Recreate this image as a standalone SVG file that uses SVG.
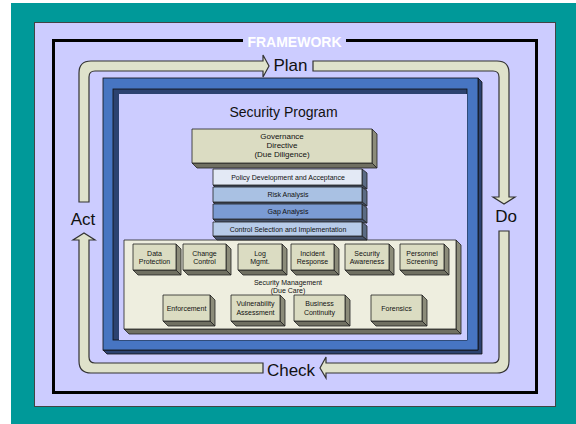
<svg xmlns="http://www.w3.org/2000/svg" width="576" height="424" viewBox="0 0 576 424">
  <style>
    text { font-family: "Liberation Sans", Arial, sans-serif; fill: #111; text-anchor: middle; }
    .big { font-size: 17px; }
    .title { font-size: 14px; }
    .gov { font-size: 8px; }
    .sm { font-size: 7px; }
    .frame-label { font-size: 14px; font-weight: bold; fill: #ffffff; }
    .cycle { fill: #dfe2cb; stroke: #333; stroke-width: 1.2; stroke-linejoin: miter; }
    .edge { stroke: #222; stroke-width: 0.8; stroke-linejoin: round; }
    .khaki { fill: #dbdcc2; }
    .khaki-side { fill: #8c8c7a; }
    .khaki-bottom { fill: #707062; }
    .row-side { fill: #5b6b84; }
    .row-bottom { fill: #46526a; }
  </style>

  <!-- background -->
  <rect x="11" y="3" width="565" height="421" fill="#009999"/>
  <rect x="34.5" y="22.5" width="521" height="384" fill="#ccccff" stroke="#444" stroke-width="1"/>

  <!-- framework border with its label -->
  <g id="framework">
    <path d="M243,40.5 L53.5,40.5 L53.5,392.5 L536.5,392.5 L536.5,40.5 L346,40.5" fill="none" stroke="#000" stroke-width="3"/>
    <text class="frame-label" x="294.5" y="47">FRAMEWORK</text>
  </g>

  <!-- PDCA cycle arrows -->
  <g id="connectors">
    <path class="cycle" d="M79,202 L79,73 Q79,61 91,61 L263,61 L263,55 L269,66 L263,77 L263,71 L95,71 Q89,71 89,77 L89,202 Z"/>
    <path class="cycle" d="M313,61 L497,61 Q509,61 509,73 L509,197 L515,197 L504,204 L493,197 L499,197 L499,77 Q499,71 493,71 L313,71 Z"/>
    <path class="cycle" d="M499,231 L509,231 L509,361 Q509,373 497,373 L326,373 L326,378 L320,368 L326,357 L326,363 L493,363 Q499,363 499,357 Z"/>
    <path class="cycle" d="M263,363 L263,373 L91,373 Q79,373 79,361 L79,240 L73,240 L84,233 L95,240 L89,240 L89,357 Q89,363 95,363 Z"/>
  </g>

  <!-- cycle stage labels -->
  <g id="plan"><text class="big" x="290.5" y="71">Plan</text></g>
  <g id="do"><text class="big" x="506" y="222">Do</text></g>
  <g id="check"><text class="big" x="291" y="376">Check</text></g>
  <g id="act"><text class="big" x="83" y="225">Act</text></g>

  <!-- security program frame -->
  <g id="security-program">
    <polygon points="478,78 482,82 482,354 107,354 103,350 478,350" fill="#2c4270" stroke="#111" stroke-width="0.8"/>
    <rect x="103" y="78" width="375" height="272" fill="#4775c2" stroke="#111" stroke-width="0.8"/>
    <rect x="113" y="89" width="354" height="251" fill="#2c4270" stroke="#111" stroke-width="0.8"/>
    <rect x="119" y="94" width="348" height="246" fill="#ccccff"/>
    <text class="title" x="283.5" y="117">Security Program</text>
  </g>

  <!-- governance block -->
  <g id="governance">
    <polygon class="khaki-side edge" points="372,129 377,134 377,168 372,163"/>
    <polygon class="khaki-bottom edge" points="192,163 372,163 377,168 197,168"/>
    <rect class="khaki edge" x="192" y="129" width="180" height="34"/>
    <text class="gov" x="282" y="139">Governance</text>
    <text class="gov" x="282" y="148">Directive</text>
    <text class="gov" x="282" y="157">(Due Diligence)</text>
  </g>

  <!-- management panel (due care) -->
  <g id="security-management">
    <polygon class="khaki-side edge" points="456,240 461,245 461,334 456,329"/>
    <polygon class="khaki-bottom edge" points="124,329 456,329 461,334 129,334"/>
    <rect class="edge" x="124" y="240" width="332" height="89" fill="#eeeedf"/>
    <text class="sm" x="288" y="285">Security Management</text>
    <text class="sm" x="288" y="293">(Due Care)</text>
  </g>

  <!-- process layers -->
  <g id="policy">
    <polygon class="row-side edge" points="362,169 367,173 367,189 362,185"/>
    <polygon class="row-bottom edge" points="213,185 362,185 367,189 217,189"/>
    <rect class="edge" x="213" y="169" width="149" height="16" fill="#e3e9f5"/>
    <text class="sm" x="288" y="179.5">Policy Development and Acceptance</text>
  </g>
  <g id="risk">
    <polygon class="row-side edge" points="362,187 367,191 367,206 362,202"/>
    <polygon class="row-bottom edge" points="213,202 362,202 367,206 217,206"/>
    <rect class="edge" x="213" y="187" width="149" height="15" fill="#a9c1e3"/>
    <text class="sm" x="288" y="197">Risk Analysis</text>
  </g>
  <g id="gap">
    <polygon class="row-side edge" points="362,204 367,208 367,223 362,219"/>
    <polygon class="row-bottom edge" points="213,219 362,219 367,223 217,223"/>
    <rect class="edge" x="213" y="204" width="149" height="15" fill="#7b9bd3"/>
    <text class="sm" x="288" y="214">Gap Analysis</text>
  </g>
  <g id="control">
    <polygon class="row-side edge" points="362,222 367,226 367,240 362,236"/>
    <polygon class="row-bottom edge" points="213,236 362,236 367,240 217,240"/>
    <rect class="edge" x="213" y="222" width="149" height="14" fill="#b7cbe9"/>
    <text class="sm" x="288" y="232">Control Selection and Implementation</text>
  </g>

  <!-- due-care activities, top row -->
  <g id="data-protection">
    <polygon class="khaki-side edge" points="176,244 181,249 181,275 176,270"/>
    <polygon class="khaki-bottom edge" points="133,270 176,270 181,275 138,275"/>
    <rect class="khaki edge" x="133" y="244" width="43" height="26"/>
    <text class="sm" x="154.5" y="255.5">Data</text>
    <text class="sm" x="154.5" y="264">Protection</text>
  </g>
  <g id="change-control">
    <polygon class="khaki-side edge" points="226,244 231,249 231,275 226,270"/>
    <polygon class="khaki-bottom edge" points="183,270 226,270 231,275 188,275"/>
    <rect class="khaki edge" x="183" y="244" width="43" height="26"/>
    <text class="sm" x="204.5" y="255.5">Change</text>
    <text class="sm" x="204.5" y="264">Control</text>
  </g>
  <g id="log-mgmt">
    <polygon class="khaki-side edge" points="282,244 287,249 287,275 282,270"/>
    <polygon class="khaki-bottom edge" points="238,270 282,270 287,275 243,275"/>
    <rect class="khaki edge" x="238" y="244" width="44" height="26"/>
    <text class="sm" x="260" y="255.5">Log</text>
    <text class="sm" x="260" y="264">Mgmt.</text>
  </g>
  <g id="incident-response">
    <polygon class="khaki-side edge" points="334,244 339,249 339,275 334,270"/>
    <polygon class="khaki-bottom edge" points="291,270 334,270 339,275 296,275"/>
    <rect class="khaki edge" x="291" y="244" width="43" height="26"/>
    <text class="sm" x="312.5" y="255.5">Incident</text>
    <text class="sm" x="312.5" y="264">Response</text>
  </g>
  <g id="security-awareness">
    <polygon class="khaki-side edge" points="389,244 394,249 394,275 389,270"/>
    <polygon class="khaki-bottom edge" points="345,270 389,270 394,275 350,275"/>
    <rect class="khaki edge" x="345" y="244" width="44" height="26"/>
    <text class="sm" x="367" y="255.5">Security</text>
    <text class="sm" x="367" y="264">Awareness</text>
  </g>
  <g id="personnel-screening">
    <polygon class="khaki-side edge" points="444,244 449,249 449,275 444,270"/>
    <polygon class="khaki-bottom edge" points="400,270 444,270 449,275 405,275"/>
    <rect class="khaki edge" x="400" y="244" width="44" height="26"/>
    <text class="sm" x="422" y="255.5">Personnel</text>
    <text class="sm" x="422" y="264">Screening</text>
  </g>

  <!-- due-care activities, bottom row -->
  <g id="enforcement">
    <polygon class="khaki-side edge" points="210,295 215,300 215,326 210,321"/>
    <polygon class="khaki-bottom edge" points="163,321 210,321 215,326 168,326"/>
    <rect class="khaki edge" x="163" y="295" width="47" height="26"/>
    <text class="sm" x="186.5" y="310.5">Enforcement</text>
  </g>
  <g id="vulnerability-assessment">
    <polygon class="khaki-side edge" points="280,295 285,300 285,326 280,321"/>
    <polygon class="khaki-bottom edge" points="231,321 280,321 285,326 236,326"/>
    <rect class="khaki edge" x="231" y="295" width="49" height="26"/>
    <text class="sm" x="255.5" y="306">Vulnerability</text>
    <text class="sm" x="255.5" y="315">Assessment</text>
  </g>
  <g id="business-continuity">
    <polygon class="khaki-side edge" points="345,295 350,300 350,326 345,321"/>
    <polygon class="khaki-bottom edge" points="294,321 345,321 350,326 299,326"/>
    <rect class="khaki edge" x="294" y="295" width="51" height="26"/>
    <text class="sm" x="319.5" y="306">Business</text>
    <text class="sm" x="319.5" y="315">Continuity</text>
  </g>
  <g id="forensics">
    <polygon class="khaki-side edge" points="422,295 427,300 427,326 422,321"/>
    <polygon class="khaki-bottom edge" points="371,321 422,321 427,326 376,326"/>
    <rect class="khaki edge" x="371" y="295" width="51" height="26"/>
    <text class="sm" x="396.5" y="310.5">Forensics</text>
  </g>
</svg>
